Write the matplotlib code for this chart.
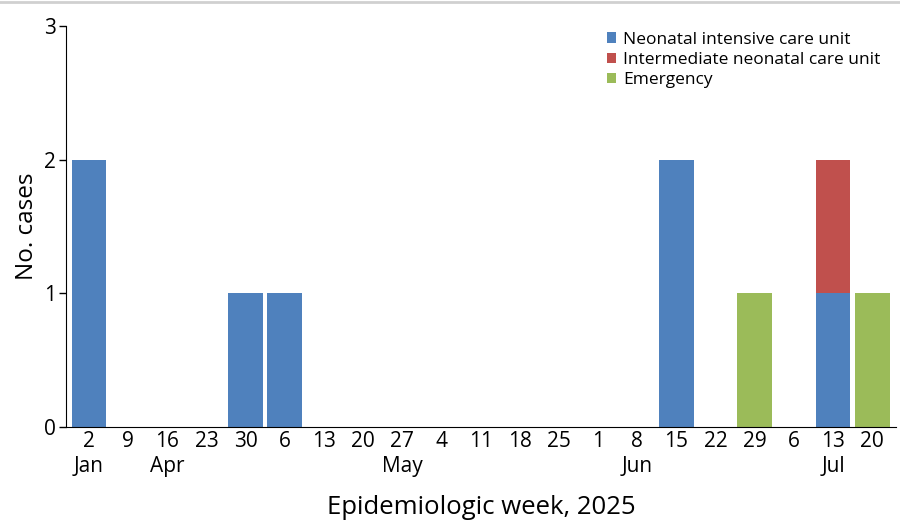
import matplotlib.pyplot as plt
import numpy as np

weeks = ["2", "9", "16", "23", "30", "6", "13", "20", "27", "4", "11",
         "18", "25", "1", "8", "15", "22", "29", "6", "13", "20"]
months = {0: "Jan", 2: "Apr", 8: "May", 14: "Jun", 19: "Jul"}

nicu = [2, 0, 0, 0, 1, 1, 0, 0, 0, 0, 0, 0, 0, 0, 0, 2, 0, 0, 0, 1, 0]
intermediate = [0, 0, 0, 0, 0, 0, 0, 0, 0, 0, 0, 0, 0, 0, 0, 0, 0, 0, 0, 1, 0]
emergency = [0, 0, 0, 0, 0, 0, 0, 0, 0, 0, 0, 0, 0, 0, 0, 0, 0, 1, 0, 0, 1]

series = [
    ("Neonatal intensive care unit", nicu, "#4F81BD"),
    ("Intermediate neonatal care unit", intermediate, "#C0504D"),
    ("Emergency", emergency, "#9BBB59"),
]

plt.rcParams['font.family'] = ['Open Sans', 'DejaVu Sans']

fig = plt.figure(figsize=(9, 5.27), dpi=100)
ax = fig.add_axes([0.0733, 0.1898, 0.9223, 0.7609])

x = np.arange(len(weeks))
bottom = np.zeros(len(weeks))
for name, vals, color in series:
    vals = np.array(vals, dtype=float)
    mask = vals > 0
    ax.bar(x[mask], vals[mask], width=0.89, bottom=bottom[mask], color=color,
           linewidth=0, label=name)
    bottom += vals

ax.set_xlim(-0.59, len(weeks) - 0.39)
ax.set_ylim(0, 3)
ax.set_yticks([0, 1, 2, 3])
ax.tick_params(axis='y', labelsize=15, length=5, width=1, pad=2)
ax.set_xticks(x)
ax.set_xticklabels(weeks, fontsize=15)
ax.tick_params(axis='x', length=0, pad=3)

for i, m in months.items():
    ax.text(i, -0.215, m, ha='center', va='top', fontsize=15)

ax.spines['top'].set_visible(False)
ax.spines['right'].set_visible(False)
ax.set_ylabel("No. cases", fontsize=17.5, labelpad=4)
ax.set_xlabel("Epidemiologic week, 2025", fontsize=18.5, labelpad=31)

handles, labels = ax.get_legend_handles_labels()
ax.legend(handles, labels, loc='upper right', bbox_to_anchor=(1.0, 1.025),
          frameon=False, fontsize=12.5, handlelength=0.55, handleheight=0.55,
          handletextpad=0.4, labelspacing=0.25)

fig.add_artist(plt.Line2D([0, 1], [0.996, 0.996], color="#d0d0d0", linewidth=2))

fig.savefig("out.png", dpi=100)
